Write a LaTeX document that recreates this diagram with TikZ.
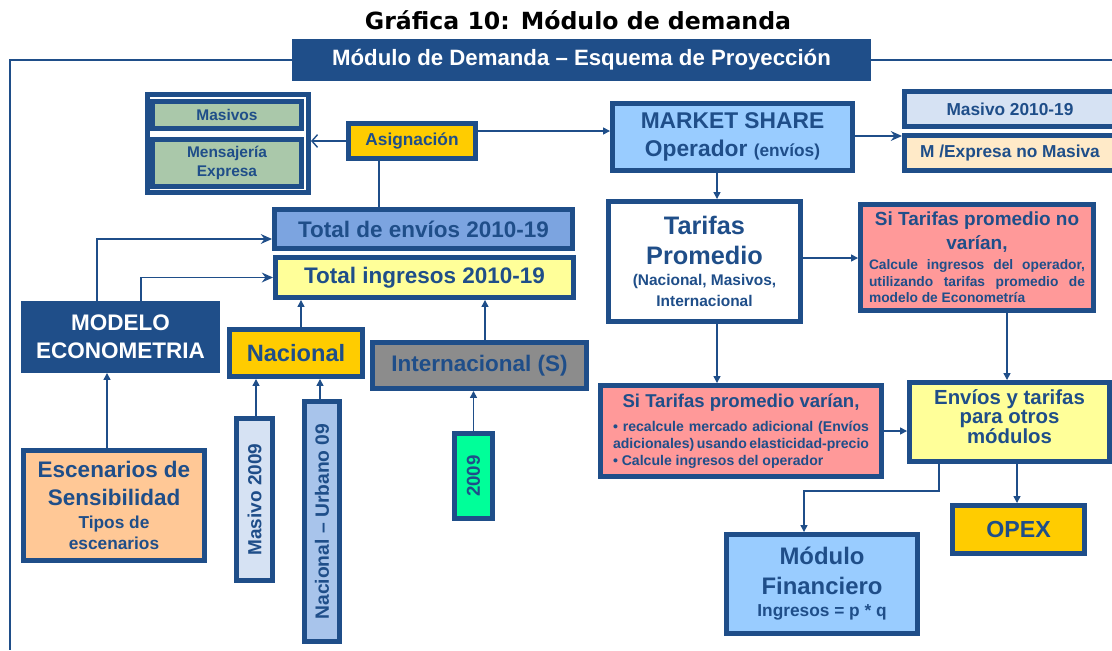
\documentclass[tikz,border=0pt]{standalone}
\usepackage{fontspec}
\setmainfont{Liberation Sans}
\newfontfamily\titlefont{DejaVu Sans}
\usepackage{graphicx}
\usepackage{tikz}
\usetikzlibrary{arrows.meta,calc}
\setlength{\parindent}{0pt}
\hyphenpenalty=10000
\exhyphenpenalty=10000

\definecolor{navy}{RGB}{31,78,137}
\definecolor{gold}{RGB}{255,204,0}
\definecolor{paleyellow}{RGB}{255,255,153}
\definecolor{skyblue}{RGB}{153,204,255}
\definecolor{midblue}{RGB}{124,164,224}
\definecolor{lavender}{RGB}{214,226,243}
\definecolor{periwinkle}{RGB}{168,196,235}
\definecolor{salmon}{RGB}{255,153,153}
\definecolor{sage}{RGB}{170,200,170}
\definecolor{peach}{RGB}{255,200,150}
\definecolor{cream}{RGB}{255,234,200}
\definecolor{springgreen}{RGB}{0,255,153}
\definecolor{slate}{RGB}{140,140,140}

\newcommand{\fsz}[2]{\fontsize{#1}{#2}\selectfont}

\tikzset{
    box/.style={draw=navy, line width=3.5pt, text=navy, align=center, inner sep=1pt},
    sz/.style 2 args={minimum width=#1*0.25mm-1.25mm, minimum height=#2*0.25mm-1.25mm},
    link/.style={draw=navy, line width=1pt},
    arr/.style={link, -{Triangle[length=5pt,width=5pt]}},
    barb/.style={link, -{Stealth[length=8pt,width=7pt]}},
    openarr/.style={link, -{Straight Barb[length=4pt,width=9pt]}}
}

\begin{document}
\begin{tikzpicture}[x=0.25mm,y=-0.25mm]
    \useasboundingbox (0,0) rectangle (1112,650);
    % Title and header
    \node [font=\titlefont\bfseries\fsz{16.8}{19}] (title) at (578,20) {Gráfica 10: Módulo de demanda};
    \node [fill=navy, text=white,
        font=\bfseries\fsz{15.8}{18},
        minimum width=579*0.25mm,
        minimum height=42*0.25mm] (header) at (581.5,60) {Módulo de Demanda – Esquema de Proyección};
    \coordinate (frameL) at (10,650);
    \coordinate (frameR) at (1112,60);
    \draw [link] (header.west) -| (frameL);
    \draw [link] (header.east) -- (frameR);

    % Asignacion group
    \node [box, line width=3.5pt, fill=white, sz={166}{103}] (grupo) at (228,143.5) {};
    \node [box, line width=3pt, fill=sage, sz={154}{32},
        font=\bfseries\fsz{11}{13}] (masivos) at (227,115) {Masivos};
    \node [box, line width=3pt, fill=sage, sz={154}{52},
        font=\bfseries\fsz{11}{14}] (mensajeria) at (227,163) {Mensajería\\Expresa};
    \node [box, fill=gold, sz={132}{40},
        font=\bfseries\fsz{12.3}{14}] (asignacion) at (412,141) {Asignación};

    % Totales
    \node [box, fill=midblue, sz={303}{44},
        font=\bfseries\fsz{16}{19}] (envios) at (423.5,229) {Total de envíos 2010-19};
    \node [box, fill=paleyellow, sz={303}{45},
        font=\bfseries\fsz{16}{19}] (ingresos) at (424.5,277.5) {Total ingresos 2010-19};

    % Left column
    \node [box, fill=navy, text=white, sz={199}{72},
        font=\bfseries\fsz{16}{20}] (modelo) at (120.5,337) {MODELO\\ECONOMETRIA};
    \node [box, fill=peach, sz={186}{115},
        font=\bfseries\fsz{16}{20}] (escenarios) at (114,505.5) {Escenarios de\\Sensibilidad\\[-4pt]{\fsz{12.3}{15}Tipos de}\\[-5pt]{\fsz{12.3}{15}escenarios}};

    % Nacional / Internacional
    \node [box, fill=gold, sz={138}{52},
        font=\bfseries\fsz{16.8}{20}] (nacional) at (296,353) {Nacional};
    \node [box, fill=slate, sz={219}{51},
        font=\bfseries\fsz{16}{18}] (internacional) at (479.5,365.5) {Internacional (S)};
    \node [box, fill=lavender, sz={41}{167},
        font=\bfseries\fsz{13.5}{16}] (masivo09) at (254.5,499.5) {\rotatebox{90}{Masivo 2009}};
    \node [box, fill=periwinkle, sz={40}{245},
        font=\bfseries\fsz{13.7}{16}] (urbano09) at (322,521.5) {\rotatebox{90}{Nacional – Urbano 09}};
    \node [box, fill=springgreen, sz={43}{90},
        font=\bfseries\fsz{13.3}{16}] (intl09) at (473.5,476) {\rotatebox{90}{2009}};

    % Market share
    \node [box, fill=skyblue, sz={245}{72},
        font=\bfseries\fsz{16.2}{20}] (share) at (732.5,137) {MARKET SHARE\\Operador {\fsz{12.3}{14}(envíos)}};
    \node [box, fill=lavender, sz={216}{40},
        font=\bfseries\fsz{12.3}{14}] (masivo1019) at (1010,109) {Masivo 2010-19};
    \node [box, fill=cream, sz={216}{40},
        font=\bfseries\fsz{12.3}{14}] (expresa) at (1010,153) {M /Expresa no Masiva};

    % Tarifas
    \node [box, fill=white, sz={197}{125},
        font=\bfseries\fsz{18}{21}] (tarifas) at (704.5,261.5) {Tarifas\\Promedio\\[-6pt]{\fsz{11}{14}(Nacional, Masivos,}\\[-6pt]{\fsz{11}{14}Internacional}};
    \node [box, fill=salmon, sz={238}{111}, text width=54mm, align=justify,
        font=\bfseries] (novarian) at (977,257.5) {{\centering\fsz{13.5}{17}Si Tarifas promedio no\par varían,\par}\vspace{2pt}\fsz{9.8}{11}Calcule ingresos del operador,\linebreak utilizando tarifas promedio de\linebreak modelo de Econometría};
    \node [box, fill=salmon, sz={286}{96}, text width=64mm, align=justify,
        font=\bfseries] (varian) at (741,431) {{\centering\fsz{13.2}{17}Si Tarifas promedio varían,\par}\vspace{5pt}\fsz{10}{12}• recalcule mercado adicional (Envíos\linebreak adicionales) usando elasticidad-precio\par • Calcule ingresos del operador};

    % Salidas
    \node [box, fill=paleyellow, sz={205}{84},
        font=\bfseries\fsz{14.5}{14}] (otros) at (1009.5,422) {Envíos y tarifas\\para otros\\módulos\\[-6pt]};
    \node [box, fill=skyblue, sz={196}{104},
        font=\bfseries\fsz{17}{21}] (financiero) at (822,584) {Módulo\\Financiero\\[-5pt]{\fsz{12.3}{15}Ingresos = p * q}};
    \node [box, fill=gold, sz={137}{53},
        font=\bfseries\fsz{16.5}{19}] (opex) at (1018.5,529.5) {OPEX};

    % Connectors
    \draw [openarr] (asignacion.west) -- (asignacion.west -| grupo.east);
    \draw [arr] ($(asignacion.east)+(0,-10)$) coordinate (a1) -- (a1 -| share.west);
    \draw [link] ($(asignacion.south)+(-33,0)$) coordinate (a2) -- (a2 |- envios.north);
    \draw [barb] ($(modelo.north)+(-23.5,0)$) |- ($(envios.west)+(0,10)$);
    \draw [barb] ($(modelo.north)+(20.5,0)$) |- (ingresos.west);
    \draw [arr] ($(nacional.north)+(5,0)$) coordinate (a3) -- (a3 |- ingresos.south);
    \draw [arr] ($(internacional.north)+(5.5,0)$) coordinate (a4) -- (a4 |- ingresos.south);
    \draw [arr] ($(escenarios.north)+(-7,0)$) coordinate (a5) -- (a5 |- modelo.south);
    \draw [arr] ($(masivo09.north)+(1.5,0)$) coordinate (a6) -- (a6 |- nacional.south);
    \draw [arr] ($(urbano09.north)+(-2,0)$) coordinate (a7) -- (a7 |- nacional.south);
    \draw [arr] (intl09.north) -- (intl09.north |- internacional.south);
    \draw [barb] ($(share.east)+(0,-1)$) coordinate (a8) -- (a8 -| masivo1019.west);
    \draw [arr] ($(share.south)+(-15.5,0)$) coordinate (a9) -- (a9 |- tarifas.north);
    \draw [arr] ($(tarifas.east)+(0,-3.5)$) coordinate (a10) -- (a10 -| novarian.west);
    \draw [arr] ($(tarifas.south)+(12.5,0)$) coordinate (a11) -- (a11 |- varian.north);
    \draw [arr] ($(novarian.south)+(30,0)$) coordinate (a12) -- (a12 |- otros.north);
    \draw [arr] (varian.east) -- (varian.east -| otros.west);
    \draw [arr] ($(otros.south)+(-70.5,0)$) coordinate (a13) -- ++(0,27) -| ($(financiero.north)+(-18,0)$);
    \draw [arr] ($(otros.south)+(7.5,0)$) coordinate (a14) -- (a14 |- opex.north);
\end{tikzpicture}
\end{document}
